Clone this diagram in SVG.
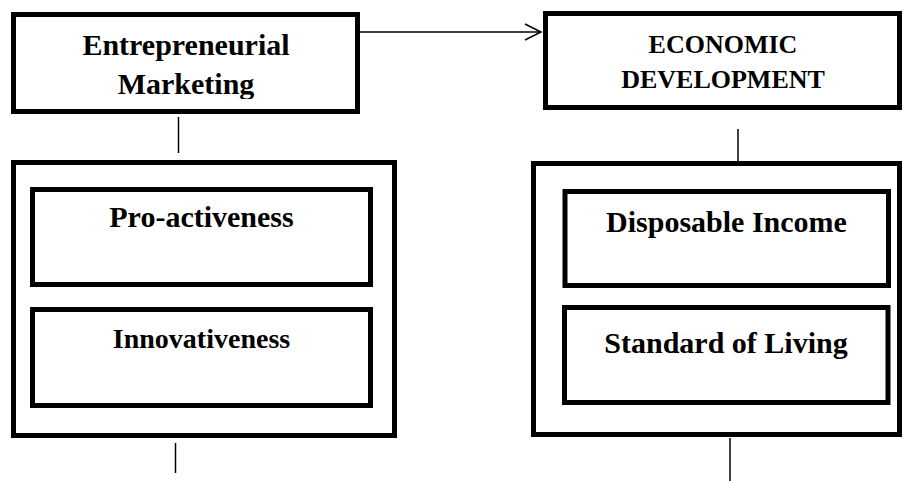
<svg xmlns="http://www.w3.org/2000/svg" width="903" height="481" viewBox="0 0 903 481">
  <style>
    .box { fill: #fff; stroke: #000; stroke-width: 5; }
    .lbl { font-family: "Liberation Serif", "Times New Roman", serif; font-weight: bold; fill: #000; text-anchor: middle; }
    .wire { stroke: #000; stroke-width: 1.5; fill: none; }
  </style>
  <defs>
    <!-- the title text box is shorter than its frame, so the descender of "g" is cut -->
    <clipPath id="clip-em">
      <rect x="16" y="17" width="339" height="82"/>
    </clipPath>
  </defs>
  <rect width="903" height="481" fill="#fff"/>

  <g id="connectors">
    <line class="wire" x1="360" y1="32" x2="540" y2="32"/>
    <polyline class="wire" points="525,24 541,32 525,40"/>
    <line class="wire" x1="178.5" y1="117" x2="178.5" y2="153"/>
    <line class="wire" x1="175.5" y1="443" x2="175.5" y2="473"/>
    <line class="wire" x1="738" y1="129" x2="738" y2="163"/>
    <line class="wire" x1="730" y1="438" x2="730" y2="481"/>
  </g>

  <g id="entrepreneurial-marketing">
    <rect class="box" x="13.5" y="14.5" width="344" height="97"/>
    <g clip-path="url(#clip-em)">
      <text class="lbl" x="186" y="55" font-size="30">Entrepreneurial</text>
      <text class="lbl" x="186" y="94" font-size="30">Marketing</text>
    </g>
  </g>

  <g id="economic-development">
    <rect class="box" x="545.5" y="13.5" width="354" height="94"/>
    <text class="lbl" x="723" y="53" font-size="26">ECONOMIC</text>
    <text class="lbl" x="723" y="88" font-size="26">DEVELOPMENT</text>
  </g>

  <g id="marketing-dimensions">
    <rect class="box" x="13.5" y="162.5" width="381" height="273"/>
    <g id="pro-activeness">
      <rect class="box" x="32.5" y="189.5" width="338" height="95"/>
      <text class="lbl" x="201.5" y="227" font-size="30">Pro-activeness</text>
    </g>
    <g id="innovativeness">
      <rect class="box" x="32.5" y="309.5" width="338" height="96"/>
      <text class="lbl" x="201.5" y="348" font-size="28">Innovativeness</text>
    </g>
  </g>

  <g id="development-dimensions">
    <rect class="box" x="533.5" y="163.5" width="366" height="271"/>
    <g id="disposable-income">
      <rect class="box" x="565" y="191.5" width="323.5" height="94"/>
      <text class="lbl" x="726.5" y="232" font-size="30">Disposable Income</text>
    </g>
    <g id="standard-of-living">
      <rect class="box" x="564.5" y="307.5" width="323.5" height="95"/>
      <text class="lbl" x="726" y="353" font-size="30">Standard of Living</text>
    </g>
  </g>
</svg>
